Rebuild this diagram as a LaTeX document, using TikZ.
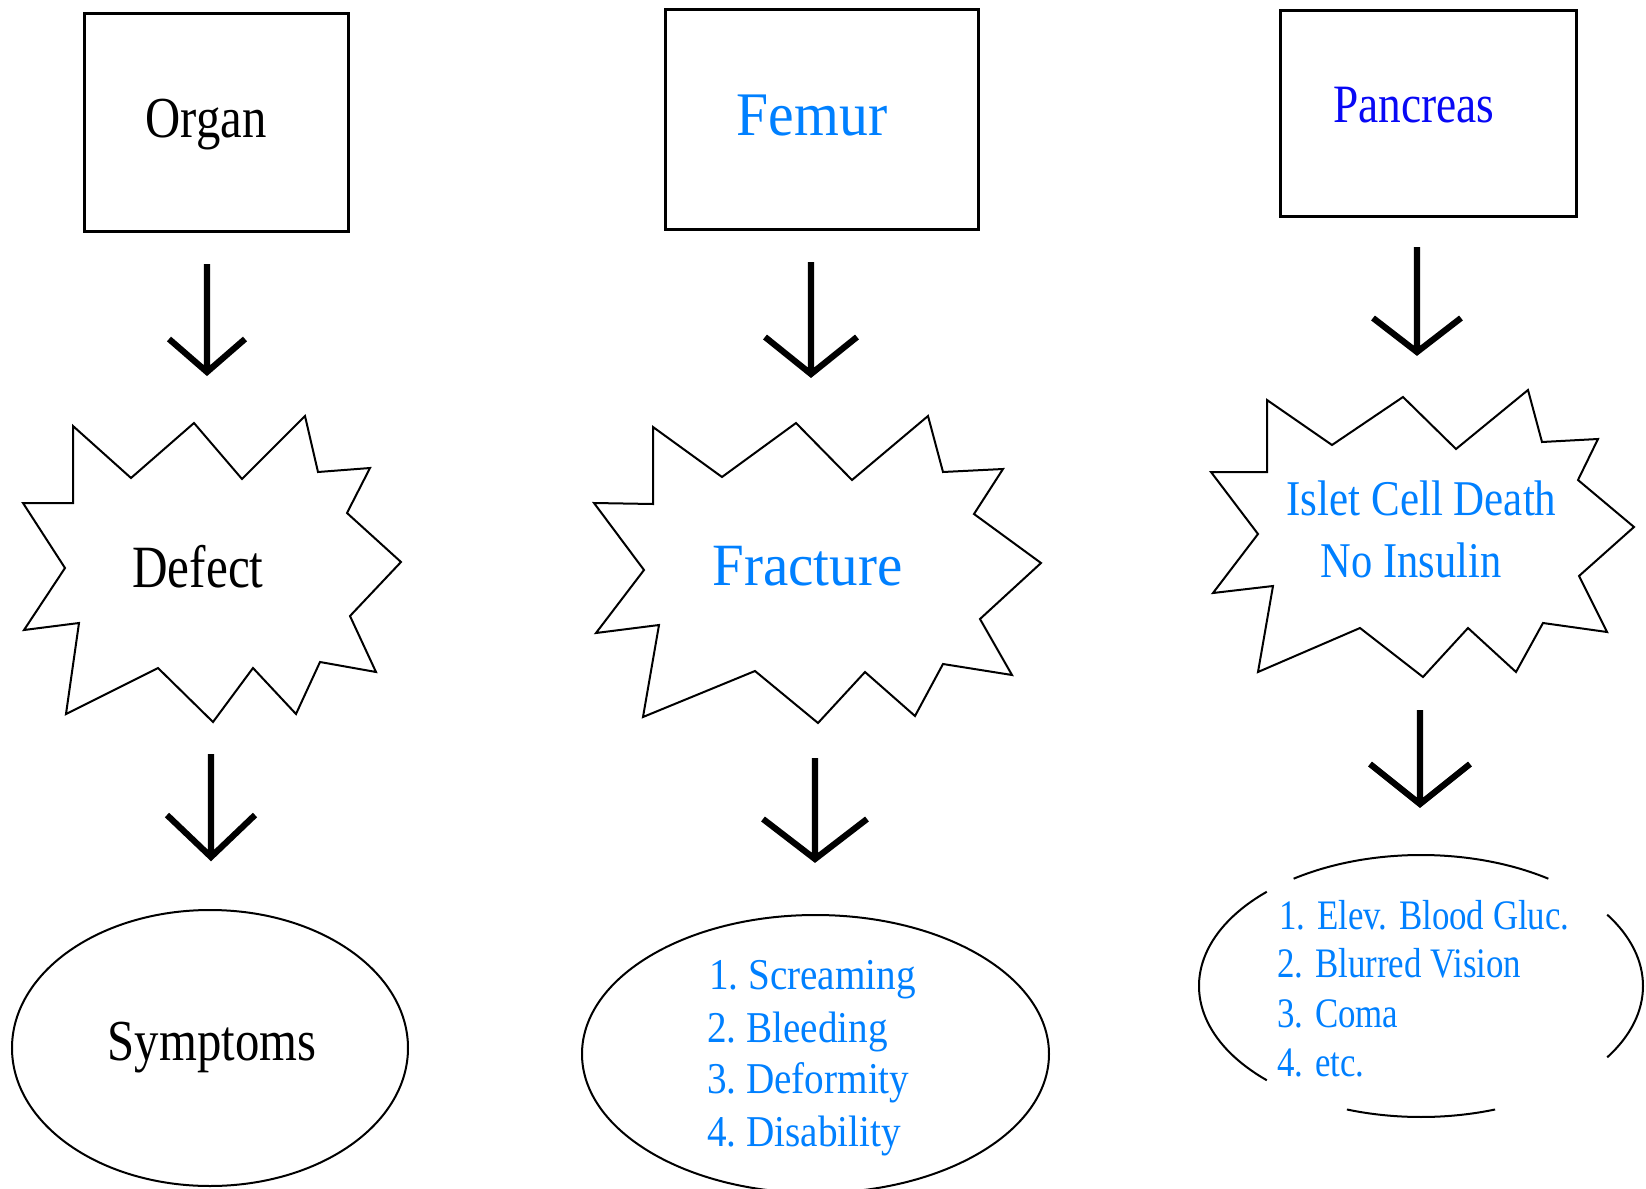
\documentclass[tikz,border=0pt]{standalone}
\usepackage{fontspec}
\setmainfont{Liberation Serif}
\usepackage{graphicx}
\usetikzlibrary{shapes.geometric}
\definecolor{lblue}{RGB}{0,128,255}
\definecolor{dblue}{RGB}{8,8,245}
\newcommand\myfs[1]{\fontsize{#1pt}{#1pt}\selectfont}
\begin{document}
\begin{tikzpicture}[x=0.5pt,y=-0.5pt,
  box/.style={draw, line width=1.5pt, inner sep=0pt, anchor=north west},
  star/.style={draw, line width=1pt, line join=miter},
  oval/.style={draw, line width=1pt, ellipse, inner sep=0pt},
  arcline/.style={line width=1pt},
  arr/.style={line width=3.1pt, line join=miter},
  lbl/.style={inner sep=0pt, anchor=base},
  li/.style={inner sep=0pt, anchor=base west}
]
\useasboundingbox (0,0) rectangle (1646,1189);
\fill[white] (0,0) rectangle (1646,1189);

% ---- boxes ----
\node[box, minimum width=132pt, minimum height=109pt] (organ) at (83,12) {};
\node[box, minimum width=156.5pt, minimum height=110pt] (femur) at (664,8) {};
\node[box, minimum width=148pt, minimum height=103pt] (pancreas) at (1279,9) {};
\node[lbl, font=\myfs{29}] (organT) at (206,137) {\scalebox{.84}[1]{Organ}};
\node[lbl, font=\myfs{31}, text=lblue] (femurT) at (812,135) {\scalebox{.93}[1]{Femur}};
\node[lbl, font=\myfs{27}, text=dblue] (pancT) at (1414,122) {\scalebox{.84}[1]{Pancreas}};

% ---- arrows ----
\coordinate (a1t) at (207,264); \coordinate (a1h) at (207,372);
\coordinate (a2t) at (211,754); \coordinate (a2h) at (211,857);
\coordinate (b1t) at (811,262); \coordinate (b1h) at (811,374);
\coordinate (b2t) at (815,758); \coordinate (b2h) at (815,859);
\coordinate (c1t) at (1417,247); \coordinate (c1h) at (1417,352);
\coordinate (c2t) at (1420,710); \coordinate (c2h) at (1420,804);
\draw[arr] (a1t) -- (a1h) ++(-38,-33) -- (a1h) -- ++(38,-33);
\draw[arr] (a2t) -- (a2h) ++(-44,-42) -- (a2h) -- ++(44,-42);
\draw[arr] (b1t) -- (b1h) ++(-46,-37) -- (b1h) -- ++(46,-37);
\draw[arr] (b2t) -- (b2h) ++(-52,-40) -- (b2h) -- ++(52,-40);
\draw[arr] (c1t) -- (c1h) ++(-44,-34) -- (c1h) -- ++(44,-34);
\draw[arr] (c2t) -- (c2h) ++(-50,-40) -- (c2h) -- ++(50,-40);

% ---- starbursts ----
\draw[star] (73,426) -- (131,478) -- (194,423) -- (242,479) -- (305,416) -- (318,472)
  -- (370,468) -- (347,513) -- (401,562) -- (350,616) -- (376,672) -- (320,662)
  -- (296,714) -- (253,668) -- (213,722) -- (158,668) -- (66,714) -- (79,623)
  -- (24,630) -- (65,568) -- (23,503) -- (73,503) -- cycle;
\draw[star] (653,427) -- (722,477) -- (796,423) -- (852,480) -- (928,416) -- (943,472)
  -- (1003,469) -- (974,514) -- (1041,563) -- (980,619) -- (1012,675) -- (943,664)
  -- (915,716) -- (865,672) -- (818,723) -- (755,671) -- (643,717) -- (659,625)
  -- (596,633) -- (644,570) -- (594,503) -- (653,504) -- cycle;
\draw[star] (1267,400) -- (1332,445) -- (1403,397) -- (1456,449) -- (1528,390) -- (1542,442)
  -- (1598,439) -- (1578,480) -- (1634,527) -- (1579,576) -- (1607,632) -- (1543,623)
  -- (1516,672) -- (1468,628) -- (1423,677) -- (1360,628) -- (1258,672) -- (1273,586)
  -- (1213,593) -- (1258,534) -- (1211,472) -- (1267,472) -- cycle;
\node[lbl, font=\myfs{30}] (defectT) at (198,587) {\scalebox{.82}[1]{Defect}};
\node[lbl, font=\myfs{30}, text=lblue] (fractT) at (807.5,585) {\scalebox{.95}[1]{Fracture}};
\node[lbl, font=\myfs{25}, text=lblue] (isletT) at (1421.5,515) {\scalebox{.86}[1]{Islet Cell Death}};
\node[lbl, font=\myfs{25}, text=lblue] (insT) at (1411,577) {\scalebox{.85}[1]{No Insulin}};

% ---- ellipses ----
\node[oval, minimum width=198pt, minimum height=138pt] (sympt) at (210,1048) {};
\node[lbl, font=\myfs{29}] (symptT) at (212,1060) {\scalebox{.84}[1]{Symptoms}};

\node[oval, minimum width=233.5pt, minimum height=139pt] (frlist) at (815.5,1054) {};
\node[li, font=\myfs{22}, text=lblue] (f1) at (709,989) {\scalebox{.89}[1]{1.\hspace{-2pt} Screaming}};
\node[li, font=\myfs{22}, text=lblue] (f2) at (707,1042) {\scalebox{.89}[1]{2.\hspace{-2pt} Bleeding}};
\node[li, font=\myfs{22}, text=lblue] (f3) at (707,1093) {\scalebox{.89}[1]{3.\hspace{-2pt} Deformity}};
\node[li, font=\myfs{22}, text=lblue] (f4) at (707,1146) {\scalebox{.89}[1]{4.\hspace{-2pt} Disability}};

\coordinate (c3) at (1421,986);
\draw[arcline] ([shift={(235:222 and 131)}]c3) arc[start angle=235, end angle=305, x radius=222, y radius=131];
\draw[arcline] ([shift={(134:222 and 131)}]c3) arc[start angle=134, end angle=226, x radius=222, y radius=131];
\draw[arcline] ([shift={(-33:222 and 131)}]c3) arc[start angle=-33, end angle=33, x radius=222, y radius=131];
\draw[arcline] ([shift={(70.5:222 and 131)}]c3) arc[start angle=70.5, end angle=109.5, x radius=222, y radius=131];
\node[li, font=\myfs{21}, text=lblue] (p1) at (1279,929) {\scalebox{.83}[1]{1. Elev. Blood Gluc.}};
\node[li, font=\myfs{21}, text=lblue] (p2) at (1277,977) {\scalebox{.83}[1]{2. Blurred Vision}};
\node[li, font=\myfs{21}, text=lblue] (p3) at (1277,1027) {\scalebox{.83}[1]{3. Coma}};
\node[li, font=\myfs{21}, text=lblue] (p4) at (1277,1076) {\scalebox{.83}[1]{4. etc.}};
\end{tikzpicture}
\end{document}
